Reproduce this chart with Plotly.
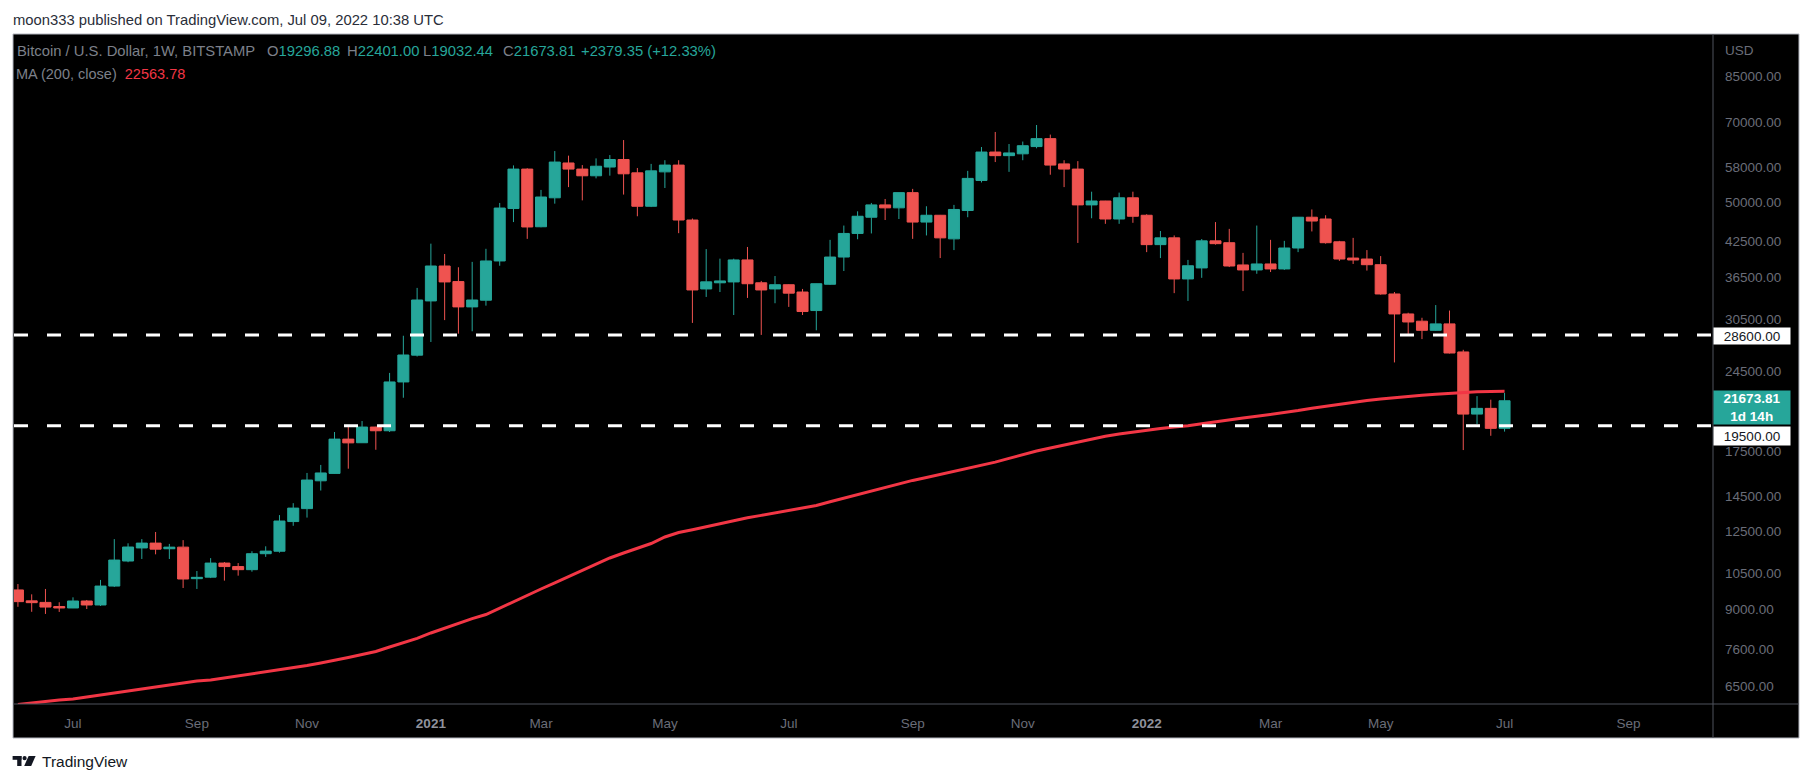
import math
import pandas as pd
import plotly.graph_objects as go

# weekly BITSTAMP BTC/USD candles, first bar = week of 2020-06-08
first_week = "2020-06-08"

opens = [9770, 9330, 9270, 9110, 9055, 9325, 9170, 9930, 11035, 11660,
         11900, 11620, 11700, 10245, 10310, 10940, 10780, 10640, 11380, 11500,
         13030, 13760, 15470, 15960, 18440, 18160, 19400, 19100, 23460, 26260,
         33000, 38230, 35800, 32180, 33100, 39050, 48700, 57500, 45100, 50950,
         59000, 57500, 55900, 58000, 59870, 56600, 49170, 56830, 58480, 46400,
         34710, 35620, 35750, 39220, 35620, 34710, 35330, 34260, 31690, 35400,
         39700, 43850, 46950, 49450, 48840, 52070, 46000, 47340, 42860, 48300,
         54810, 61780, 60850, 61320, 63220, 65370, 58770, 57500, 49450, 50270,
         46600, 50950, 47340, 41830, 43040, 36200, 37920, 42500, 42170, 38400,
         37600, 38560, 37760, 41240, 46950, 46600, 42330, 39530, 39370, 38440,
         33980, 31240, 30300, 29160, 29960, 26620, 20490, 20990, 19296.88]

highs = [10015, 9590, 9810, 9275, 9470, 9365, 10190, 12100, 11890, 12100,
         12470, 11860, 12050, 10580, 11170, 10990, 10940, 11500, 11740, 13390,
         14080, 15990, 16540, 19000, 19500, 19900, 19420, 24370, 28500, 34860,
         42000, 40210, 38030, 38900, 41100, 49860, 58400, 57700, 52670, 62040,
         60850, 58480, 60150, 61000, 64980, 57770, 58770, 59690, 59690, 46700,
         41050, 39430, 39430, 41420, 35900, 36650, 35400, 34710, 35500, 42680,
         45330, 48130, 49860, 50700, 52100, 52900, 49170, 47400, 49450, 57070,
         63100, 67230, 63900, 64570, 69230, 66490, 59690, 59460, 52280, 50300,
         52070, 52280, 47540, 44300, 43480, 39220, 42830, 46000, 44700, 40400,
         45330, 42680, 42500, 47000, 48510, 47340, 42500, 43040, 40880, 39860,
         34260, 31400, 30740, 32430, 31690, 26860, 22100, 21770, 22401.00]

lows = [9100, 8910, 8830, 8905, 9050, 9015, 9130, 9890, 10980, 11130,
        11350, 11130, 9850, 9810, 10270, 10160, 10375, 10550, 11230, 11430,
        12800, 13250, 14850, 15940, 16280, 18150, 17630, 19000, 21950, 26110,
        27760, 30440, 28750, 29040, 32350, 38270, 46000, 42860, 45000, 49710,
        53300, 50400, 55300, 55930, 51650, 47140, 49000, 53100, 43900, 30080,
        33560, 34260, 31100, 33420, 28600, 32680, 32180, 31100, 29160, 35300,
        37430, 42790, 43850, 46400, 46600, 42860, 43480, 39530, 40880, 46950,
        54350, 59230, 56830, 59690, 62760, 56150, 53300, 42130, 46740, 45660,
        45660, 45860, 40530, 39530, 34100, 33000, 36370, 41830, 38060, 34400,
        37000, 37270, 37600, 40530, 44220, 42000, 39060, 38560, 37500, 33880,
        25470, 28720, 28100, 29100, 26450, 17610, 19650, 18700, 19032.44]

closes = [9300, 9260, 9090, 9055, 9325, 9170, 9930, 11080, 11705, 11900,
          11600, 11700, 10230, 10302, 10940, 10780, 10640, 11380, 11505, 13060,
          13790, 15520, 15990, 18440, 18150, 19400, 19100, 23460, 26280, 33130,
          38230, 35750, 32180, 33130, 39050, 48800, 57500, 45060, 51120, 59230,
          57500, 55900, 58200, 59870, 56370, 49170, 57070, 58480, 46400, 34560,
          35760, 35900, 39220, 35480, 34560, 35330, 34100, 31560, 35480, 39700,
          43850, 47140, 49450, 48840, 52070, 46000, 47340, 43040, 48510, 55290,
          61780, 60850, 61550, 63450, 65370, 58480, 57500, 49450, 50270, 46600,
          50950, 47140, 41830, 43040, 36200, 38270, 42500, 42000, 38230, 37600,
          38560, 37760, 41240, 46950, 46200, 42170, 39370, 39210, 38440, 33980,
          31240, 30200, 29160, 29960, 26500, 20490, 20990, 19294.46, 21673.81]

# MA (200, close)
ma200 = [6030, 6070, 6095, 6146, 6172, 6224, 6277, 6330, 6383, 6437,
         6492, 6547, 6602, 6658, 6686, 6743, 6800, 6857, 6915, 6974,
         7033, 7107, 7182, 7259, 7350, 7443, 7538, 7683, 7813, 7969,
         8150, 8323, 8493, 8660, 8810, 9055, 9302, 9552, 9808, 10060,
         10325, 10594, 10875, 11177, 11414, 11642, 11880, 12210, 12440, 12591,
         12757, 12918, 13060, 13238, 13373, 13515, 13655, 13795, 13942, 14166,
         14378, 14585, 14813, 15058, 15274, 15496, 15686, 15887, 16071, 16279,
         16496, 16739, 17006, 17274, 17539, 17762, 17988, 18195, 18426, 18660,
         18842, 19003, 19137, 19276, 19405, 19503, 19680, 19851, 20019, 20155,
         20300, 20448, 20615, 20803, 21006, 21185, 21365, 21530, 21687, 21835,
         21965, 22087, 22190, 22284, 22370, 22440, 22500, 22540, 22563.78]

levels = [28600, 19500]

price_ticks = [85000, 70000, 58000, 50000, 42500, 36500, 30500, 24500,
               17500, 14500, 12500, 10500, 9000, 7600, 6500]

month_ticks = ["2020-07-06", "2020-09-07", "2020-11-02", "2021-01-04",
               "2021-03-01", "2021-05-03", "2021-07-05", "2021-09-06",
               "2021-11-01", "2022-01-03", "2022-03-07", "2022-05-02",
               "2022-07-04", "2022-09-05"]
month_labels = ["Jul", "Sep", "Nov", "2021", "Mar", "May", "Jul", "Sep",
                "Nov", "2022", "Mar", "May", "Jul", "Sep"]

dates = pd.date_range(first_week, periods=len(closes), freq="7D")

# page is 1813x783, the browser body adds an 8px margin round the figure
OFF = 8
W, H = 1813 - 2 * OFF, 783 - 2 * OFF
L, R, T, B = 14, 1713, 35, 704   # plot area in page pixels
FONT = "Liberation Sans, Arial, sans-serif"
UP = "#26a69a"
DOWN = "#ef5350"
MA_RED = "#f23645"
GRAY = "#7d808a"
AXIS_TXT = "#6a6d78"


def px_x(p):
    return (p - L) / (R - L)


def px_y(p):
    return (B - p) / (B - T)


fig = go.Figure()

fig.add_trace(go.Candlestick(
    x=dates, open=opens, high=highs, low=lows, close=closes,
    increasing=dict(line=dict(color=UP, width=1), fillcolor=UP),
    decreasing=dict(line=dict(color=DOWN, width=1), fillcolor=DOWN),
    whiskerwidth=0, showlegend=False, hoverinfo="skip"))

fig.add_trace(go.Scatter(
    x=dates, y=ma200, mode="lines",
    line=dict(color=MA_RED, width=3), showlegend=False, hoverinfo="skip"))

shapes = [
    # black chart frame
    dict(type="rect", xref="paper", yref="paper", layer="below",
         x0=px_x(13), x1=px_x(1799), y0=px_y(738), y1=px_y(34),
         fillcolor="black", line=dict(color="#b2b5be", width=1)),
    # axis separators
    dict(type="line", xref="paper", yref="paper",
         x0=1, x1=1, y0=px_y(738), y1=px_y(34),
         line=dict(color="#4f525c", width=1)),
    dict(type="line", xref="paper", yref="paper",
         x0=px_x(13), x1=px_x(1799), y0=0, y1=0,
         line=dict(color="#4f525c", width=1)),
]
for lv in levels:
    shapes.append(dict(type="line", xref="paper", yref="y", x0=0, x1=1,
                       y0=lv, y1=lv,
                       line=dict(color="white", width=3, dash="14px,19px")))

# TradingView logo mark
logo = "#131722"
shapes += [
    dict(type="rect", xref="paper", yref="paper", fillcolor=logo, line_width=0,
         x0=px_x(12.6), x1=px_x(21.5), y0=px_y(759.8), y1=px_y(756)),
    dict(type="rect", xref="paper", yref="paper", fillcolor=logo, line_width=0,
         x0=px_x(17.2), x1=px_x(21.5), y0=px_y(766), y1=px_y(756)),
    dict(type="circle", xref="paper", yref="paper", fillcolor=logo, line_width=0,
         x0=px_x(22.5), x1=px_x(26.7), y0=px_y(760.3), y1=px_y(756.1)),
    dict(type="path", xref="paper", yref="paper", fillcolor=logo, line_width=0,
         path=(f"M {px_x(28.6)} {px_y(756)} L {px_x(35.6)} {px_y(756)} "
               f"L {px_x(31.2)} {px_y(766)} L {px_x(24.2)} {px_y(766)} Z")),
]

chg = closes[-1] - closes[-2]
pct = chg / closes[-2] * 100


def g(t):
    return f"<span style='color:{GRAY}'>{t}</span>"


def c(t, col=UP):
    return f"<span style='color:{col}'>{t}</span>"


# legend pieces of the first row and where each one starts (page px)
legend_row1 = [
    (g("Bitcoin / U.S. Dollar, 1W, BITSTAMP"), 15),
    (g("O") + c(f"{opens[-1]:.2f}"), 265),
    (g("H") + c(f"{highs[-1]:.2f}"), 344.5),
    (g("L") + c(f"{lows[-1]:.2f}"), 420.5),
    (g("C") + c(f"{closes[-1]:.2f}"), 500.5),
    (c(f"{chg:+.2f} ({pct:+.2f}%)"), 578.5),
]
legend2 = g("MA (200, close)\u00a0\u00a0") + c(f"{ma200[-1]:.2f}", MA_RED)

annotations = [
    dict(text="moon333 published on TradingView.com, Jul 09, 2022 10:38 UTC",
         xref="paper", yref="paper", x=px_x(11), y=px_y(20),
         xanchor="left", yanchor="middle", showarrow=False,
         font=dict(family=FONT, size=14.8, color="#2a2e39")),
    dict(text=legend2, xref="paper", yref="paper", x=px_x(14), y=px_y(74),
         xanchor="left", yanchor="middle", showarrow=False,
         font=dict(family=FONT, size=14.5, color=GRAY)),
    dict(text="USD", xref="paper", yref="paper", x=px_x(1723), y=px_y(50.7),
         xanchor="left", yanchor="middle", showarrow=False,
         font=dict(family=FONT, size=13.5, color=AXIS_TXT)),
    dict(text="TradingView", xref="paper", yref="paper", x=px_x(40), y=px_y(761.5),
         xanchor="left", yanchor="middle", showarrow=False,
         font=dict(family=FONT, size=15.5, color="#131722")),
    # price labels on the scale
    dict(text=f"{levels[0]:.2f}", xref="paper", yref="y", x=1,
         y=math.log10(levels[0]), yshift=-1, xanchor="left", yanchor="middle",
         showarrow=False, bgcolor="white", width=74, height=14, borderpad=1,
         align="center", font=dict(family=FONT, size=13.5, color="#131722")),
    dict(text=f"<b>{closes[-1]:.2f}</b><br><b>1d 14h</b>", xref="paper", yref="y", x=1,
         y=math.log10(closes[-1]), yshift=-7, xanchor="left", yanchor="middle",
         showarrow=False, bgcolor=UP, width=74, height=31, borderpad=1,
         align="center", font=dict(family=FONT, size=13.5, color="white")),
    dict(text=f"{levels[1]:.2f}", xref="paper", yref="y", x=1,
         y=math.log10(levels[1]), yshift=-10, xanchor="left", yanchor="middle",
         showarrow=False, bgcolor="white", width=74, height=16, borderpad=1,
         align="center", font=dict(family=FONT, size=13.5, color="#131722")),
]
for txt, xpos in legend_row1:
    annotations.append(dict(text=txt, xref="paper", yref="paper",
                            x=px_x(xpos), y=px_y(50.7),
                            xanchor="left", yanchor="middle", showarrow=False,
                            font=dict(family=FONT, size=14.8, color=GRAY)))

tick_text = []
for lab in month_labels:
    if lab.isdigit():
        tick_text.append(f"<b><span style='color:#8f929c'>{lab}</span></b>")
    else:
        tick_text.append(lab)

fig.update_layout(
    width=W, height=H, autosize=False,
    margin=dict(l=L - OFF, r=(W + OFF) - R, t=T - OFF, b=(H + OFF) - B, pad=0),
    paper_bgcolor="white", plot_bgcolor="black",
    boxgap=0.2, boxgroupgap=0,
    showlegend=False, hovermode=False,
    shapes=shapes, annotations=annotations,
    font=dict(family=FONT, size=13.5, color=AXIS_TXT),
    xaxis=dict(type="date", range=["2020-06-06", "2022-10-18"],
               rangeslider=dict(visible=False),
               showgrid=False, zeroline=False, showline=False,
               tickmode="array", tickvals=month_ticks, ticktext=tick_text,
               ticks="", ticklabelstandoff=9,
               tickfont=dict(family=FONT, size=13.5, color=AXIS_TXT)),
    yaxis=dict(type="log", range=[3.78124, 5.00494], side="right",
               showgrid=False, zeroline=False, showline=False,
               tickmode="array", tickvals=price_ticks,
               ticktext=[f"{v:.2f}" for v in price_ticks],
               ticks="", ticklabelstandoff=11,
               tickfont=dict(family=FONT, size=13.5, color=AXIS_TXT)),
)

fig.write_html("out.html")
